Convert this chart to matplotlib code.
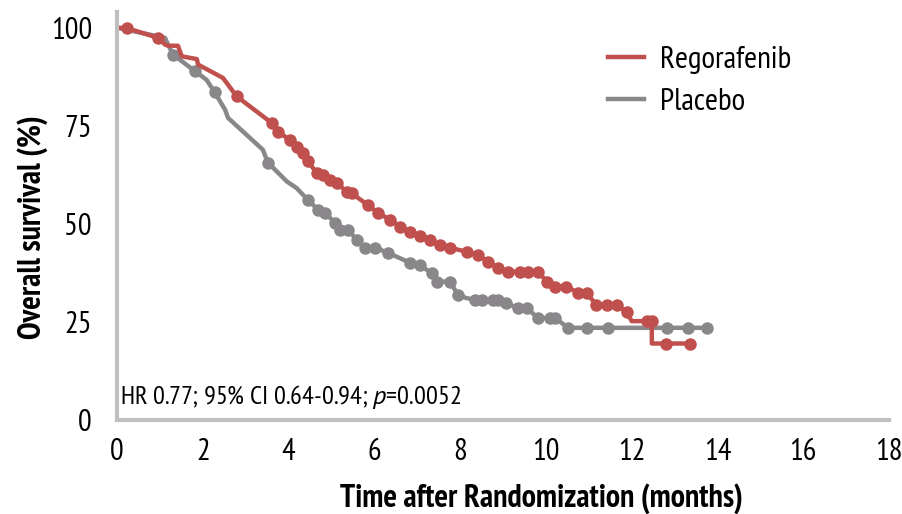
import matplotlib
matplotlib.use('Agg')
import matplotlib.pyplot as plt
from matplotlib import font_manager

# Kaplan-Meier curves (months, % surviving)
rego_t = [0, 0.23, 0.96, 1.12, 1.19, 1.42, 1.51, 1.86, 1.89, 2.47, 2.79, 3.61, 3.75, 4.03,
          4.19, 4.34, 4.45, 4.66, 4.80, 4.97, 5.12, 5.36, 5.47, 5.85, 6.09, 6.37, 6.60,
          6.83, 7.06, 7.30, 7.53, 7.76, 8.15, 8.42, 8.65, 8.88, 9.12, 9.40, 9.58, 9.82,
          10.02, 10.21, 10.48, 10.75, 10.95, 11.18, 11.42, 11.65, 11.88, 12.0, 12.35,
          12.47, 12.47, 12.80, 13.36]
rego_s = [100, 99.9, 97.4, 95.7, 95.4, 95.4, 92.7, 92.0, 90.6, 87.2, 82.5, 75.7, 73.5, 71.4,
          69.7, 68.1, 65.9, 63.0, 62.5, 61.2, 60.4, 58.2, 57.8, 54.8, 52.8, 51.0, 49.3,
          48.0, 46.8, 45.9, 44.6, 43.9, 42.9, 42.1, 40.4, 38.8, 37.8, 37.8, 37.8, 37.8,
          35.3, 34.0, 34.0, 32.4, 32.4, 29.3, 29.3, 29.3, 27.6, 25.2, 25.2,
          25.2, 19.5, 19.5, 19.5]
rego_cens_t = [0.23, 0.96, 2.79, 3.61, 3.75, 4.03, 4.19, 4.34, 4.45, 4.66, 4.80, 4.97, 5.12,
               5.36, 5.47, 5.85, 6.09, 6.37, 6.60, 6.83, 7.06, 7.30, 7.53, 7.76, 8.15, 8.42,
               8.65, 8.88, 9.12, 9.40, 9.58, 9.82, 10.02, 10.21, 10.48, 10.75, 10.95, 11.18,
               11.42, 11.65, 11.88, 12.35, 12.47, 12.80, 13.36]
rego_cens_s = [99.9, 97.4, 82.5, 75.7, 73.5, 71.4, 69.7, 68.1, 65.9, 63.0, 62.5, 61.2, 60.4,
               58.2, 57.8, 54.8, 52.8, 51.0, 49.3, 48.0, 46.8, 45.9, 44.6, 43.9, 42.9, 42.1,
               40.4, 38.8, 37.8, 37.8, 37.8, 37.8, 35.3, 34.0, 34.0, 32.4, 32.4, 29.3,
               29.3, 29.3, 27.6, 25.2, 25.2, 19.5, 19.5]

plac_t = [0, 1.12, 1.19, 1.31, 1.47, 1.82, 2.09, 2.28, 2.52, 2.59, 3.40, 3.52, 3.96, 4.19,
          4.45, 4.69, 4.85, 5.08, 5.20, 5.39, 5.59, 5.78, 6.02, 6.32, 6.83, 7.06, 7.34,
          7.45, 7.76, 7.95, 8.14, 8.35, 8.50, 8.77, 8.88, 9.08, 9.35, 9.55, 9.82, 10.10,
          10.21, 10.52, 10.95, 11.45, 12.82, 13.31, 13.75]
plac_s = [100, 97.4, 95.7, 93.1, 91.8, 88.9, 86.7, 83.5, 79.1, 77.0, 68.9, 65.6, 60.8, 59.1,
          56.1, 53.6, 52.8, 50.3, 48.5, 48.5, 45.9, 43.9, 43.9, 42.6, 40.1, 39.5, 37.4,
          35.3, 35.3, 31.9, 31.1, 30.6, 30.6, 30.6, 30.6, 29.8, 28.5, 28.5, 26.0, 26.0,
          26.0, 23.5, 23.5, 23.5, 23.5, 23.5, 23.5]
plac_cens_t = [1.31, 1.82, 2.28, 3.52, 4.45, 4.69, 4.85, 5.08, 5.20, 5.39, 5.59, 5.78, 6.02,
               6.32, 6.83, 7.06, 7.34, 7.45, 7.76, 7.95, 8.35, 8.50, 8.77, 8.88, 9.08, 9.35,
               9.55, 9.82, 10.10, 10.21, 10.52, 10.95, 11.45, 12.82, 13.31, 13.75]
plac_cens_s = [93.1, 88.9, 83.5, 65.6, 56.1, 53.6, 52.8, 50.3, 48.5, 48.5, 45.9, 43.9, 43.9,
               42.6, 40.1, 39.5, 37.4, 35.3, 35.3, 31.9, 30.6, 30.6, 30.6, 30.6, 29.8, 28.5,
               28.5, 26.0, 26.0, 26.0, 23.5, 23.5, 23.5, 23.5, 23.5, 23.5]

x_ticks = [0, 2, 4, 6, 8, 10, 12, 14, 16, 18]
y_ticks = [0, 25, 50, 75, 100]

RED = '#C0504D'
GREY = '#8A878B'
AXIS = '#BFBFBF'

# pick a narrow font if one is installed
installed = {f.name for f in font_manager.fontManager.ttflist}
font = 'DejaVu Sans'
for name in ['PT Sans Narrow', 'Archivo Narrow', 'Roboto Condensed', 'Open Sans Condensed',
             'Asap Condensed', 'Liberation Sans Narrow']:
    if name in installed:
        font = name
        break
italic_font = 'PT Sans' if 'PT Sans' in installed else font

plt.rcParams['font.family'] = [font, 'DejaVu Sans']
plt.rcParams['mathtext.fontset'] = 'custom'
plt.rcParams['mathtext.it'] = italic_font + ':italic'
plt.rcParams['mathtext.rm'] = font

fig = plt.figure(figsize=(9.03, 5.14), dpi=100)
ax = fig.add_axes([117 / 903, 1 - 420 / 514, 772 / 903, 408 / 514])

ax.plot(plac_t, plac_s, color=GREY, lw=3.2, label='Placebo', solid_joinstyle='round')
ax.plot(plac_cens_t, plac_cens_s, 'o', color=GREY, ms=9, mew=0)
ax.plot(rego_t, rego_s, color=RED, lw=3.2, label='Regorafenib', solid_joinstyle='round')
ax.plot(rego_cens_t, rego_cens_s, 'o', color=RED, ms=9, mew=0)

ax.set_xlim(0, 18)
ax.set_ylim(0, 104)
ax.set_xticks(x_ticks)
ax.set_yticks(y_ticks)
ax.tick_params(length=0, labelsize=22)
ax.tick_params(axis='y', pad=18)
ax.tick_params(axis='x', pad=13)

for side in ['top', 'right']:
    ax.spines[side].set_visible(False)
for side in ['left', 'bottom']:
    ax.spines[side].set_color(AXIS)
    ax.spines[side].set_linewidth(3)

ax.set_xlabel('Time after Randomization (months)', fontsize=23, fontweight='bold')
ax.xaxis.set_label_coords(0.55, -0.155)
ax.set_ylabel('Overall survival (%)', fontsize=23, fontweight='bold')
ax.yaxis.set_label_coords(-0.09, 0.472)

ax.text(0.004, 0.057, 'HR 0.77; 95% CI 0.64-0.94; $p$=0.0052', transform=ax.transAxes,
        fontsize=19, va='center', ha='left')

handles, labels = ax.get_legend_handles_labels()
ax.legend(handles[::-1], labels[::-1], loc='upper left', bbox_to_anchor=(0.6, 0.985),
          frameon=False, fontsize=22.5, handlelength=1.15, handletextpad=0.5,
          labelspacing=0.45)

fig.savefig('out.png', dpi=100)
